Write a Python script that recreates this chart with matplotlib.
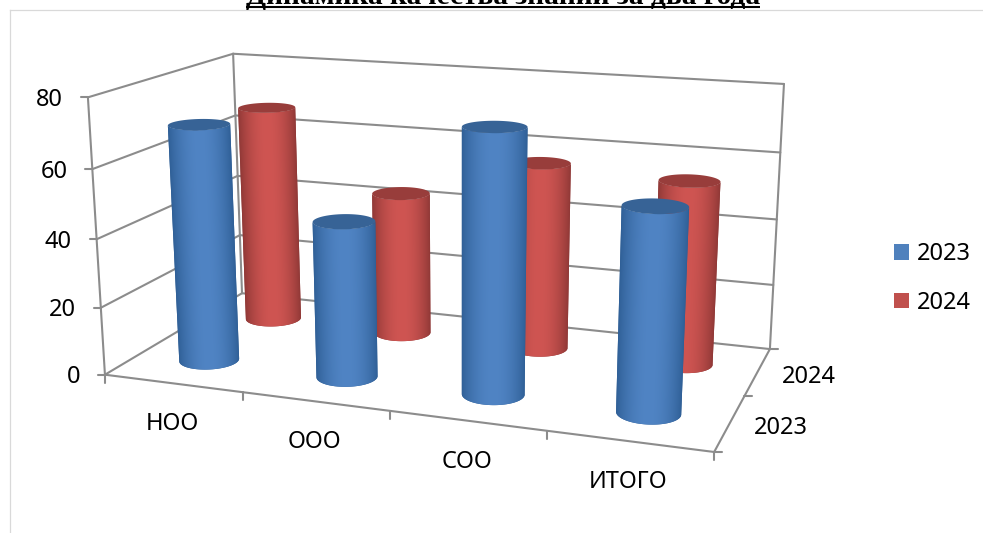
import numpy as np
import matplotlib
matplotlib.use("Agg")
import matplotlib.pyplot as plt
from matplotlib.colors import to_rgb
from matplotlib.patches import Patch, Polygon

categories = ["НОО", "ООО", "СОО", "ИТОГО"]
series_names = ["2023", "2024"]
values_2023 = [70, 45.5, 75, 57]
values_2024 = [67.5, 44, 56.5, 54.5]
value_ticks = [0, 20, 40, 60, 80]

title = "Динамика качества знаний за два года"
VMAX = 80.0

plt.rcParams['font.family'] = ['Noto Sans', 'DejaVu Sans']
W, H = 983, 533
fig = plt.figure(figsize=(W / 100, H / 100), dpi=100, facecolor='white')
ax = fig.add_axes([0, 0, 1, 1])

# Perspective camera fitted to the plot box corners (unit cube -> pixels)
cube = np.array([[0, 0, 0], [1, 0, 0], [1, 1, 0], [0, 1, 0], [0, 0, 1], [0, 1, 1], [1, 1, 1]], float)
pix = np.array([[105, 375], [714, 452], [770, 349], [242, 293], [88, 97], [233, 54], [784, 84]], float)
A = []
for (X, Y, Z), (u, v) in zip(cube, pix):
    A.append([X, Y, Z, 1, 0, 0, 0, 0, -u * X, -u * Y, -u * Z, -u])
    A.append([0, 0, 0, 0, X, Y, Z, 1, -v * X, -v * Y, -v * Z, -v])
P = np.linalg.svd(np.array(A))[2][-1].reshape(3, 4)


def proj(x, y, v):
    """x: category position 0..n, y: series position 0..m, v: value"""
    x = np.asarray(x, float) / len(categories)
    y = np.asarray(y, float) / len(series_names)
    z = np.asarray(v, float) / VMAX
    x, y, z = np.broadcast_arrays(x, y, z)
    pts = np.stack([x, y, z, np.ones_like(x)], axis=-1) @ P.T
    return pts[..., :2] / pts[..., 2:3]


GRID = '#8c8c8c'
LW = 1.5


def seg(a, b, z=1):
    ax.plot([a[0], b[0]], [a[1], b[1]], color=GRID, lw=LW, zorder=z, solid_capstyle='round')


n, m = len(categories), len(series_names)
for v in value_ticks:
    fl, bl, br = proj(0, 0, v), proj(0, m, v), proj(n, m, v)
    seg(fl, bl)
    seg(bl, br)
    seg(fl, fl + [-7, 0])
    ax.text(fl[0] - 25, fl[1] + 2.5, str(v), ha='right', va='center', fontsize=17, color='black')
seg(proj(0, 0, 0), proj(0, 0, VMAX))
seg(proj(0, m, 0), proj(0, m, VMAX))
seg(proj(n, m, 0), proj(n, m, VMAX))
seg(proj(0, 0, 0), proj(n, 0, 0))
seg(proj(n, 0, 0), proj(n, m, 0))
for i in range(n + 1):
    p = proj(i, 0, 0)
    seg(p, p + [0, 8])
for j in range(m + 1):
    p = proj(n, j, 0)
    seg(p, p + [8, 0])
for i, c in enumerate(categories):
    p = proj(i + 0.5, 0, 0)
    ax.text(p[0] - 1, p[1] + 41, c, ha='center', va='center', fontsize=17, color='black')
for j, s in enumerate(series_names):
    p = proj(n, j + 0.5, 0)
    ax.text(p[0] + 51, p[1] + 5, s, ha='center', va='center', fontsize=17, color='black')

STYLE = {
    "2023": dict(edge='#2f5f96', mid='#5084c4', cap='#376396', leg='#4f81bd'),
    "2024": dict(edge='#8f3836', mid='#cf5552', cap='#983d3b', leg='#c0504d'),
}


def cylinder(ci, sj, value, st, zo):
    cx, cy = ci + 0.5, sj + 0.5
    rx, ry = 0.198, 0.2
    t = np.linspace(0, 2 * np.pi, 241)
    top = proj(cx + rx * np.cos(t), cy + ry * np.sin(t), value)
    t_left = t[np.argmin(top[:-1, 0])]
    tf = np.linspace(t_left, t_left + np.pi, 61)
    xs, ys = cx + rx * np.cos(tf), cy + ry * np.sin(tf)
    b, a = proj(xs, ys, 0), proj(xs, ys, value)
    outline = np.vstack([b, a[::-1]])
    base = Polygon(outline, closed=True, facecolor=st['edge'], edgecolor='none', zorder=zo - 0.01)
    base.set_snap(False)
    ax.add_patch(base)

    # per-pixel shading across the body, clipped to the smooth outline
    x0, x1 = int(outline[:, 0].min()) - 1, int(outline[:, 0].max()) + 2
    y0, y1 = int(outline[:, 1].min()) - 1, int(outline[:, 1].max()) + 2
    gx, gy = np.meshgrid(np.arange(x0, x1) + 0.5, np.arange(y0, y1) + 0.5)
    f = (gy - b[0, 1]) / (a[0, 1] - b[0, 1])
    left = b[0, 0] + (a[0, 0] - b[0, 0]) * f
    g = (gy - b[-1, 1]) / (a[-1, 1] - b[-1, 1])
    right = b[-1, 0] + (a[-1, 0] - b[-1, 0]) * g
    u = np.clip((gx - left) / (right - left), 0, 1)
    shade = (np.sin(np.pi * u) ** 0.8)[..., None]
    edge, mid = np.array(to_rgb(st['edge'])), np.array(to_rgb(st['mid']))
    im = ax.imshow(edge + (mid - edge) * shade, extent=(x0, x1, y1, y0), interpolation='nearest',
                   aspect='auto', zorder=zo)
    im.set_clip_path(base)

    cap = Polygon(top, closed=True, facecolor=st['cap'], edgecolor='none', zorder=zo + 0.5)
    cap.set_snap(False)
    ax.add_patch(cap)


series_values = {"2023": values_2023, "2024": values_2024}
for sj in [1, 0]:
    name = series_names[sj]
    for ci in range(n):
        cylinder(ci, sj, series_values[name][ci], STYLE[name], 3 + (1 - sj) * 2 + ci * 0.1)

ax.set_xlim(0, W)
ax.set_ylim(H, 0)
ax.axis('off')

handles = [Patch(facecolor=STYLE[s]['leg'], edgecolor='none', label=s) for s in series_names]
leg = ax.legend(handles=handles, loc='upper left', bbox_to_anchor=(887, 235), bbox_transform=ax.transData,
                frameon=False, fontsize=17, handlelength=0.63, handleheight=0.63, handletextpad=0.34,
                labelspacing=1.05, borderpad=0.3, borderaxespad=0)

# outer frame of the embedded chart and clipped heading
ax.plot([9.5, 983], [9.5, 9.5], color='#d9d9d9', lw=0.9, zorder=0.5)
ax.plot([9.5, 9.5], [9.5, 533], color='#d9d9d9', lw=0.9, zorder=0.5)
ax.text(503, 4.5, title, ha='center', va='baseline', fontsize=21.2, fontweight='bold',
        family='Liberation Serif', color='black', zorder=10)
ax.plot([246, 760], [7, 7], color='black', lw=1.5, zorder=10, solid_capstyle='butt')

fig.savefig('out.png', dpi=100, facecolor='white')
